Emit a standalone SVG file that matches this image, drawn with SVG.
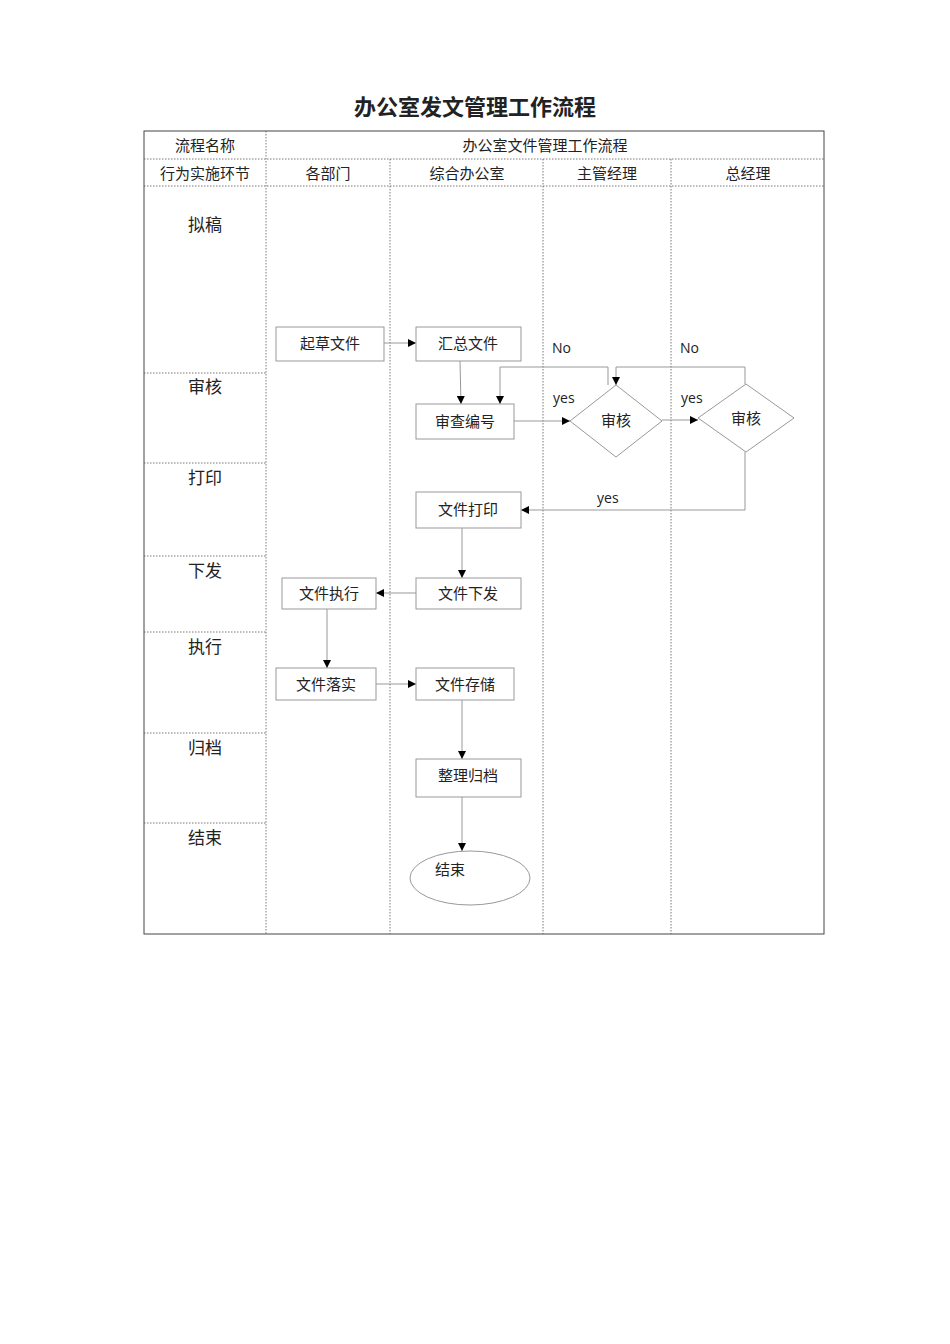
<svg xmlns="http://www.w3.org/2000/svg" width="950" height="1344" viewBox="0 0 950 1344">
<style>
text{font-family:"Liberation Serif","Noto Sans CJK SC",serif;fill:#222;text-anchor:middle}
.h{font-size:15px}.s{font-size:17px}.b{font-size:15px}
.l{font-family:"Open Sans","Liberation Sans",sans-serif;font-size:14px;text-anchor:start}
.d{stroke:#555;stroke-width:0.8;stroke-dasharray:1.5 1.5;fill:none}
.n rect,.n ellipse,.n polygon{fill:#fff;stroke:#999;stroke-width:1}
.c{stroke:#999;stroke-width:1;fill:none;marker-end:url(#a)}
</style>
<defs><marker id="a" viewBox="0 0 10 10" refX="10" refY="5" markerWidth="8" markerHeight="8" markerUnits="userSpaceOnUse" orient="auto"><path d="M0,0L10,5L0,10z" fill="#000"/></marker></defs>
<rect width="950" height="1344" fill="#fff"/>
<text x="475" y="115" style="font-size:22px;font-weight:bold">办公室发文管理工作流程</text>
<g id="table">
<rect x="144" y="131" width="680" height="803" fill="none" stroke="#444" stroke-width="1"/>
<path class="d" d="M144,159H824M144,186H824M266,131V934M390,159V934M543,159V934M671,159V934M144,373H266M144,463H266M144,556H266M144,632H266M144,733H266M144,823H266"/>
<text class="h" x="205" y="151">流程名称</text>
<text class="h" x="545" y="151">办公室文件管理工作流程</text>
<text class="h" x="205" y="179">行为实施环节</text>
<text class="h" x="328" y="179">各部门</text>
<text class="h" x="467" y="179">综合办公室</text>
<text class="h" x="607" y="179">主管经理</text>
<text class="h" x="748" y="179">总经理</text>
<text class="s" x="205" y="231">拟稿</text>
<text class="s" x="205" y="393">审核</text>
<text class="s" x="205" y="484">打印</text>
<text class="s" x="205" y="577">下发</text>
<text class="s" x="205" y="653">执行</text>
<text class="s" x="205" y="754">归档</text>
<text class="s" x="205" y="844">结束</text>
</g>
<g id="connectors">
<path class="c" d="M384,343H416"/>
<path class="c" d="M460,361L461,404"/>
<path class="c" d="M608,385V367H500V404"/>
<path class="c" d="M745,384V367H616V385"/>
<path class="c" d="M514,421H570"/>
<path class="c" d="M662,420H698"/>
<path class="c" d="M745,452V510H521"/>
<path class="c" d="M462,528V578"/>
<path class="c" d="M416,593H376"/>
<path class="c" d="M327,609V668"/>
<path class="c" d="M376,684H416"/>
<path class="c" d="M462,700V759"/>
<path class="c" d="M462,797V851"/>
<text class="l" x="552" y="353">No</text>
<text class="l" x="680" y="353">No</text>
<text class="l" x="553" y="403">yes</text>
<text class="l" x="681" y="403">yes</text>
<text class="l" x="597" y="503">yes</text>
</g>
<g id="n1" class="n"><rect x="276" y="327" width="108" height="34"/><text class="b" x="330" y="349">起草文件</text></g>
<g id="n2" class="n"><rect x="416" y="327" width="105" height="34"/><text class="b" x="468" y="349">汇总文件</text></g>
<g id="n3" class="n"><rect x="416" y="404" width="98" height="35"/><text class="b" x="465" y="427">审查编号</text></g>
<g id="n4" class="n"><polygon points="616,385 662,421 616,457 570,421"/><text class="b" x="616" y="426">审核</text></g>
<g id="n5" class="n"><polygon points="746,384 794,418 746,452 698,418"/><text class="b" x="746" y="424">审核</text></g>
<g id="n6" class="n"><rect x="416" y="492" width="105" height="36"/><text class="b" x="468" y="515">文件打印</text></g>
<g id="n7" class="n"><rect x="416" y="578" width="105" height="31"/><text class="b" x="468" y="599">文件下发</text></g>
<g id="n8" class="n"><rect x="282" y="578" width="94" height="31"/><text class="b" x="329" y="599">文件执行</text></g>
<g id="n9" class="n"><rect x="276" y="668" width="100" height="32"/><text class="b" x="326" y="690">文件落实</text></g>
<g id="n10" class="n"><rect x="416" y="668" width="98" height="32"/><text class="b" x="465" y="690">文件存储</text></g>
<g id="n11" class="n"><rect x="416" y="759" width="105" height="38"/><text class="b" x="468" y="781">整理归档</text></g>
<g id="n12" class="n"><ellipse cx="470" cy="878" rx="60" ry="27"/><text class="b" x="450" y="875">结束</text></g>
</svg>
